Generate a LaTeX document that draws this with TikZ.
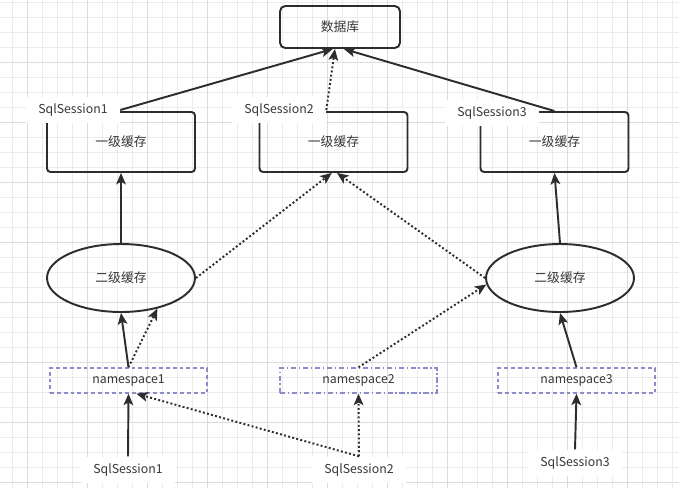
\documentclass[tikz,border=0pt]{standalone}
\usepackage{fontspec}
\newfontfamily\cjk{Noto Sans CJK SC}
\usetikzlibrary{shapes.geometric,arrows.meta}
\definecolor{inkline}{RGB}{45,45,45}
\definecolor{inktext}{RGB}{55,55,55}
\definecolor{nsline}{RGB}{140,140,200}
\definecolor{gridminor}{RGB}{236,236,236}
\definecolor{gridmajor}{RGB}{220,220,220}

\begin{document}
\begin{tikzpicture}[x=0.02cm,y=-0.02cm,
        every node/.style={font=\cjk\fontsize{7}{9}\selectfont,text=inktext},
        cachebox/.style={draw=inkline,line width=1.1pt,rounded corners=2pt,minimum width=2.96cm,minimum height=1.2cm,inner sep=0pt,font=\cjk\fontsize{7.3}{9}\selectfont},
        l2cache/.style={ellipse,draw=inkline,line width=1.1pt,minimum width=2.96cm,minimum height=1.36cm,inner sep=0pt,font=\cjk\fontsize{7.3}{9}\selectfont},
        nsbox/.style={draw=nsline,line width=0.8pt,dash pattern=on 2.2pt off 1.7pt,minimum width=3.14cm,minimum height=0.5cm,inner sep=0pt},
        session/.style={fill=white,inner xsep=7pt,inner ysep=4pt},
        link/.style={draw=inkline,line width=1.1pt,-{Stealth[length=6.5pt,width=5.5pt,inset=1.5pt]}},
        weak/.style={link,dash pattern=on 1.1pt off 1.3pt}]
        \fill[white] (0,0) rectangle (679,488);
        \useasboundingbox (0,0) rectangle (679,488);
        % grid
        \foreach \gx in {12,27,...,672}
            \draw[gridminor,line width=0.5pt] (\gx,0) -- (\gx,488);
        \foreach \gy in {2,17,...,482}
            \draw[gridminor,line width=0.5pt] (0,\gy) -- (679,\gy);
        \foreach \gx in {27,87,...,627}
            \draw[gridmajor,line width=0.5pt] (\gx,0) -- (\gx,488);
        \foreach \gy in {62,122,...,482}
            \draw[gridmajor,line width=0.5pt] (0,\gy) -- (679,\gy);

        \node[cachebox,minimum width=2.4cm,minimum height=0.84cm,rounded corners=3pt] (db) at (340,27) {数据库};
        \node[cachebox] (l1a) at (121,142) {一级缓存};
        \node[cachebox] (l1b) at (333.5,142) {一级缓存};
        \node[cachebox] (l1c) at (554.5,142) {一级缓存};
        \node[session] (top1) at (73,110) {SqlSession1};
        \node[session] (top2) at (279,110) {SqlSession2};
        \node[session] (top3) at (492,113) {SqlSession3};

        \node[l2cache] (l2a) at (121,278) {二级缓存};
        \node[l2cache] (l2b) at (560,278) {二级缓存};

        \node[nsbox] (ns1) at (128.5,380.5) {namespace1};
        \node[nsbox,dash pattern=on 3pt off 1.5pt on 0.8pt off 1.5pt] (ns2) at (358.5,380.5) {namespace2};
        \node[nsbox] (ns3) at (576.5,380.5) {namespace3};

        \node[session] (bot1) at (128,470) {SqlSession1};
        \node[session] (bot2) at (359,470) {SqlSession2};
        \node[session] (bot3) at (575,463) {SqlSession3};

        \draw[link] (top1.east) -- (db.252);
        \draw[weak] (top2.east) -- (db.257);
        \draw[link] (l1c.north) -- (db.280);

        \draw[link] (l2a.north) -- (l1a.south);
        \draw[weak] (l2a.east) -- ([xshift=-1pt]l1b.south);
        \draw[weak] (l2b.west) -- ([xshift=2pt]l1b.south);
        \draw[link] (l2b.north) -- (l1c.south);

        \draw[link] (ns1.north) -- (l2a.south);
        \draw[weak] (ns1.north) -- (l2a.-40);
        \draw[weak] (ns2.north) -- (l2b.185);
        \draw[link] (ns3.north) -- (l2b.south);

        \draw[link] (bot1.north) -- (ns1.south);
        \draw[weak] (bot2.north) -- (ns2.south);
        \draw[weak] (bot2.north) -- ([xshift=4.5pt]ns1.south);
        \draw[link] (bot3.north) -- (ns3.south);
    \end{tikzpicture}
\end{document}
